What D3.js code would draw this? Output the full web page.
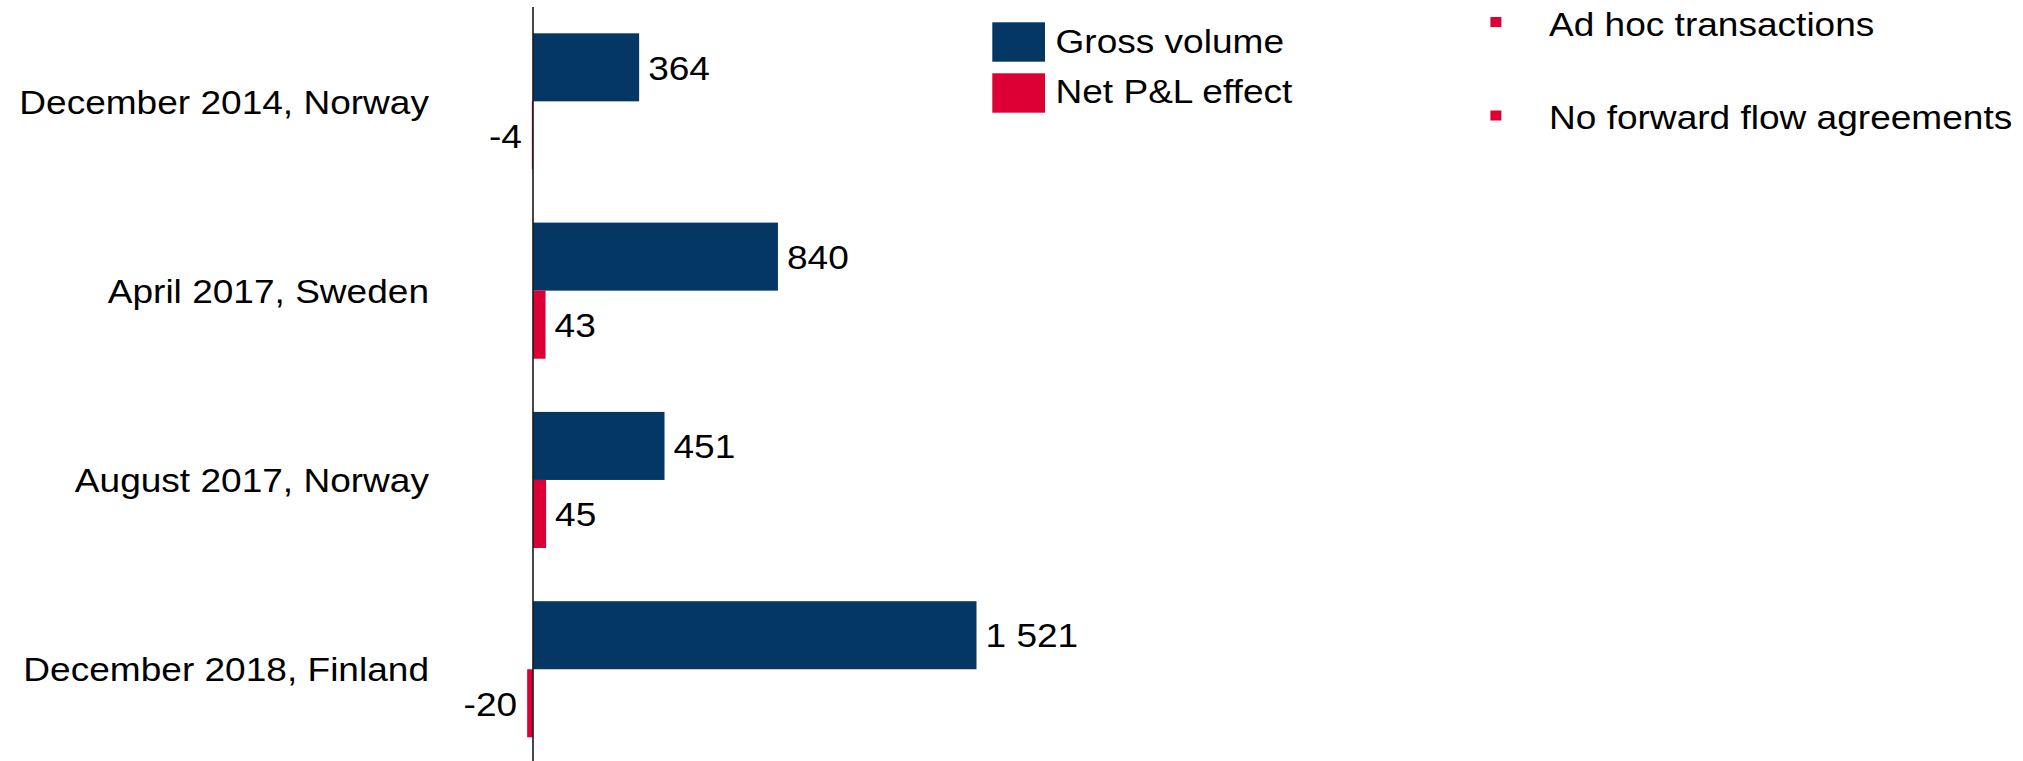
<!DOCTYPE html>
<html>
<head>
<meta charset="utf-8">
<script src="https://cdn.jsdelivr.net/npm/d3@7"></script>
<style>
  html, body { margin: 0; padding: 0; background: #fff; }
  svg text { font-family: "Liberation Sans", Arial, sans-serif; fill: #000; }
</style>
</head>
<body>
<svg id="chart" width="2023" height="761"></svg>
<script>
// data
const categories = ["December 2014, Norway", "April 2017, Sweden", "August 2017, Norway", "December 2018, Finland"];
const seriesNames = ["Gross volume", "Net P&L effect"];
const grossVolume = [364, 840, 451, 1521];
const netEffect = [-4, 43, 45, -20];
const notes = ["Ad hoc transactions", "No forward flow agreements"];

const seriesColors = ["#043763", "#dc0035"];
const fontSize = 34;
const stretch = 1.09; // text in the original is a bit wider than plain Arial

const fmt = d3.formatLocale({ decimal: ",", thousands: " ", grouping: [3], currency: ["", ""], minus: "-" }).format(",d");

const svg = d3.select("#chart");

// x: value -> pixels, zero sits on the axis line
const x = d3.scaleLinear().domain([0, 1521]).range([533, 976.5]);

const y = d3.scaleBand()
    .domain(categories)
    .range([33.3, 737.3])
    .paddingInner(0.281)
    .paddingOuter(0);

const ySub = d3.scaleBand()
    .domain(seriesNames)
    .range([0, y.bandwidth()]);

const rows = categories.map((c, i) => ({
    cat: c,
    values: [
        { s: seriesNames[0], v: grossVolume[i] },
        { s: seriesNames[1], v: netEffect[i] }
    ]
}));

// helper: text that gets stretched sideways around its anchor point
function label(parent, tx, ty, txt, anchor) {
    parent.append("text")
        .attr("transform", `translate(${tx},${ty}) scale(${stretch},1)`)
        .attr("text-anchor", anchor || "start")
        .style("font-size", fontSize + "px")
        .text(txt);
}

const group = svg.selectAll(".grp")
    .data(rows)
    .enter().append("g")
    .attr("class", "grp")
    .attr("transform", d => `translate(0,${y(d.cat)})`);

group.selectAll("rect")
    .data(d => d.values)
    .enter().append("rect")
    .attr("x", d => x(Math.min(0, d.v)))
    .attr("y", d => ySub(d.s))
    .attr("width", d => Math.abs(x(d.v) - x(0)))
    .attr("height", ySub.bandwidth())
    .attr("fill", (d, i) => seriesColors[i]);

// value labels
group.each(function(d) {
    const g = d3.select(this);
    d.values.forEach(p => {
        const cy = ySub(p.s) + ySub.bandwidth() / 2 + fontSize * 0.36;
        if (p.v >= 0) label(g, x(p.v) + 9, cy, fmt(p.v), "start");
        else label(g, x(p.v) - 10, cy, fmt(p.v), "end");
    });
});

// category labels
categories.forEach(c => {
    label(svg, 429, y(c) + y.bandwidth() / 2 + fontSize * 0.36, c, "end");
});

// axis line on top of the bars
svg.append("line")
    .attr("x1", x(0)).attr("x2", x(0))
    .attr("y1", 7).attr("y2", 761)
    .attr("stroke", "#1a1a1a")
    .attr("stroke-width", 1.6);

// series legend
const legend = svg.append("g");
seriesNames.forEach((s, i) => {
    legend.append("rect")
        .attr("x", 992.3)
        .attr("y", 22.3 + i * 51)
        .attr("width", 52.7)
        .attr("height", 39.4)
        .attr("fill", seriesColors[i]);
    label(legend, 1055.5, 52.5 + i * 50.5, s, "start");
});

// bullet notes
notes.forEach((n, i) => {
    svg.append("rect")
        .attr("x", 1490.4)
        .attr("y", 17 + i * 93.5)
        .attr("width", 11)
        .attr("height", 10)
        .attr("fill", seriesColors[1]);
    label(svg, 1549, 35.7 + i * 93.5, n, "start");
});
</script>
</body>
</html>
